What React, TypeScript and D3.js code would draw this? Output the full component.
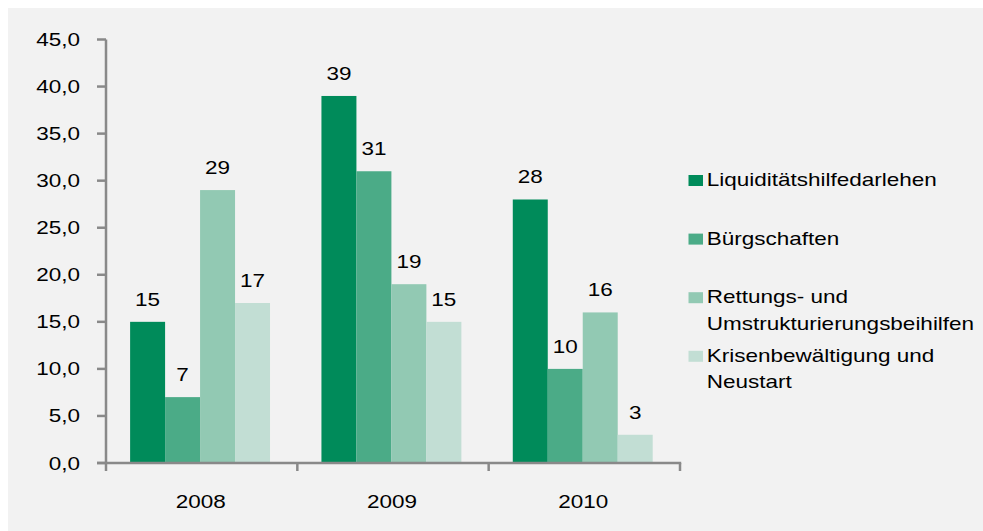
import React from "react";
import * as d3 from "d3";

const years = ["2008", "2009", "2010"];
const seriesNames = [
  "Liquiditätshilfedarlehen",
  "Bürgschaften",
  "Rettungs- und Umstrukturierungsbeihilfen",
  "Krisenbewältigung und Neustart",
];
const legendLines = [
  ["Liquiditätshilfedarlehen"],
  ["Bürgschaften"],
  ["Rettungs- und", "Umstrukturierungsbeihilfen"],
  ["Krisenbewältigung und", "Neustart"],
];
const liquiditaet = [15, 39, 28];
const buergschaften = [7, 31, 10];
const rettung = [29, 19, 16];
const krisen = [17, 15, 3];
const seriesValues = [liquiditaet, buergschaften, rettung, krisen];
const colors = ["#008B5A", "#4BAB87", "#92C9B3", "#C2DED4"];
const yTicks = [0, 5, 10, 15, 20, 25, 30, 35, 40, 45];

const FONT = "'Liberation Sans', Arial, sans-serif";
const FS = 18.6;
const SX = 1.21;
const AXIS = "#898989";

export default function App() {
  const W = 983;
  const H = 531;
  const left = 106;
  const right = 680;
  const y = d3.scaleLinear().domain([0, 45]).range([463, 39.5]);
  const x0 = d3.scaleBand<string>().domain(years).range([left, right]).paddingInner(0).paddingOuter(0);
  const x1 = d3
    .scaleBand<string>()
    .domain(seriesNames)
    .range([-1.6, x0.bandwidth() - 1.6])
    .paddingInner(0)
    .paddingOuter(0.735);
  const fmt = (v: number) => d3.format(".1f")(v).replace(".", ",");

  const txt = (
    s: string,
    x: number,
    yy: number,
    anchor: "start" | "middle" | "end",
    key?: string
  ) => (
    <text
      key={key}
      transform={`translate(${x},${yy}) scale(${SX},1)`}
      textAnchor={anchor}
      fontFamily={FONT}
      fontSize={FS}
      fill="#000"
    >
      {s}
    </text>
  );

  const legendBase = d3.range(4).map((i) => 186 + i * 58.6);

  return (
    <svg
      width={W}
      height={H}
      style={{ position: "fixed", left: 0, top: 0, display: "block" }}
    >
      <rect x={0} y={0} width={W} height={H} fill="#ffffff" />
      <rect x={8} y={8} width={W - 8} height={H - 8} fill="#f2f2f2" />

      {/* bars */}
      {years.map((yr, yi) => (
        <g key={yr} transform={`translate(${x0(yr)},0)`}>
          {seriesNames.map((s, si) => {
            const v = seriesValues[si][yi];
            const bx = x1(s)!;
            const bw = x1.bandwidth();
            return (
              <rect key={s} x={bx} y={y(v)} width={bw} height={y(0) - y(v)} fill={colors[si]} />
            );
          })}
        </g>
      ))}

      {/* value labels */}
      {years.map((yr, yi) =>
        seriesNames.map((s, si) => {
          const v = seriesValues[si][yi];
          const cx = x0(yr)! + x1(s)! + x1.bandwidth() / 2;
          return txt(String(v), cx, y(v) - 16, "middle", `${yr}-${si}`);
        })
      )}

      {/* y axis */}
      <line x1={left} x2={left} y1={y(45)} y2={y(0)} stroke={AXIS} strokeWidth={2.5} />
      {yTicks.map((t) => (
        <g key={t}>
          <line x1={97} x2={left} y1={y(t)} y2={y(t)} stroke={AXIS} strokeWidth={2.5} />
          {txt(fmt(t), 80, y(t) + 6.5, "end")}
        </g>
      ))}

      {/* x axis */}
      <line x1={97} x2={right + 1.2} y1={y(0)} y2={y(0)} stroke={AXIS} strokeWidth={2.5} />
      {[...years.map((yr) => x0(yr)!), right].map((tx, i) => (
        <line key={i} x1={tx} x2={tx} y1={y(0)} y2={471} stroke={AXIS} strokeWidth={2.5} />
      ))}
      {years.map((yr) => (
        <g key={yr}>{txt(yr, x0(yr)! + x0.bandwidth() / 2 - 1, 507.5, "middle")}</g>
      ))}

      {/* legend */}
      {legendLines.map((lines, i) => (
        <g key={i}>
          <rect x={688.5} y={legendBase[i] - 11} width={14.5} height={11} fill={colors[i]} />
          {lines.map((ln, li) => txt(ln, 706.7, legendBase[i] + li * 26.6, "start", `${i}-${li}`))}
        </g>
      ))}
    </svg>
  );
}
